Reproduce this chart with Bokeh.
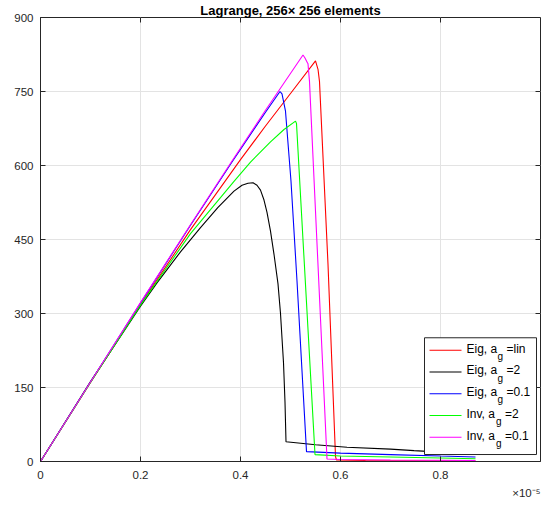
from bokeh.plotting import figure
from bokeh.models import Range1d, FixedTicker, Label, Title
from bokeh.embed import file_html
from bokeh.resources import INLINE

# ---------------- data (x in units of 1e-5) ----------------
eig_lin_x = [0, 0.1, 0.2, 0.3, 0.4, 0.45, 0.5, 0.55, 0.555, 0.558, 0.575, 0.59, 0.592, 0.65, 0.75, 0.87]
eig_lin_y = [0, 160, 318, 470, 612, 680, 746, 812, 795, 770, 400, 10, 3, 2, 1.5, 1]

eig_2_x = [0, 0.1, 0.2, 0.233, 0.28, 0.32, 0.355, 0.387, 0.403, 0.415, 0.425, 0.433, 0.44, 0.447,
           0.453, 0.46, 0.467, 0.475, 0.48, 0.486, 0.489, 0.491, 0.55, 0.613, 0.7, 0.747, 0.8, 0.87]
eig_2_y = [0, 162, 315, 362, 425, 474, 515, 548, 560, 564, 565, 560, 550, 530,
           505, 467, 420, 360, 300, 200, 120, 40, 34, 29, 25, 22, 19, 16]

eig_01_x = [0, 0.1, 0.2, 0.3, 0.383, 0.45, 0.479, 0.483, 0.49, 0.501, 0.513, 0.532, 0.6, 0.7, 0.8, 0.87]
eig_01_y = [0, 161, 321, 479, 607, 708, 750, 745, 710, 568, 366, 20, 17, 14, 11, 9]

inv_2_x = [0, 0.1, 0.2, 0.3, 0.387, 0.42, 0.46, 0.487, 0.51, 0.512, 0.549, 0.6, 0.7, 0.8, 0.87]
inv_2_y = [0, 160, 317, 462, 568, 607, 648, 673, 690, 685, 14, 11, 9, 7, 5.5]

inv_01_x = [0, 0.1, 0.2, 0.3, 0.383, 0.45, 0.525, 0.529, 0.533, 0.535, 0.538, 0.573, 0.6, 0.7, 0.8, 0.87]
inv_01_y = [0, 161, 322, 480, 609, 712, 824, 818, 810, 806, 770, 5, 4, 3, 2.5, 2]

series_x = [eig_lin_x, eig_2_x, eig_01_x, inv_2_x, inv_01_x]
series_y = [eig_lin_y, eig_2_y, eig_01_y, inv_2_y, inv_01_y]
series_colors = ["#ff0000", "#000000", "#0000ff", "#00ff00", "#ff00ff"]
legend_main = ["Eig, a", "Eig, a", "Eig, a", "Inv, a", "Inv, a"]
legend_sub = ["g", "g", "g", "g", "g"]
legend_rest = ["=lin", "=2", "=0.1", "=2", "=0.1"]

x_ticks = [0, 0.2, 0.4, 0.6, 0.8]
x_tick_labels = ["0", "0.2", "0.4", "0.6", "0.8"]
y_ticks = [0, 150, 300, 450, 600, 750, 900]
y_tick_labels = ["0", "150", "300", "450", "600", "750", "900"]

title_text = "Lagrange, 256\u00d7 256 elements"
x_exponent_text = "\u00d710\u207b\u2075"

# ---------------- layout helpers (picture pixel -> data) ----------------
W, H = 542, 506
FL, FR, FT, FB = 40, 540, 16, 461
XMIN, XMAX, YMIN, YMAX = 0.0, 1.0, 0.0, 900.0


def wx(px):
    return XMIN + (px - FL) * (XMAX - XMIN) / (FR - FL)


def wy(py):
    return YMIN + (FB - py) * (YMAX - YMIN) / (FB - FT)


def base(py, size):
    # labels render a bit below the requested alphabetic baseline; compensate
    return wy(py - 0.43 * size)


FONT = "Liberation Sans"
AX = "#262626"

p = figure(width=W, height=H, output_backend="svg", toolbar_location=None,
           x_range=Range1d(XMIN, XMAX), y_range=Range1d(YMIN, YMAX),
           min_border_left=FL, min_border_right=W - FR, min_border_top=FT,
           min_border_bottom=H - FB)
p.background_fill_color = "white"
p.border_fill_color = "white"
p.outline_line_color = AX
p.outline_line_width = 1

p.title.text = title_text
p.title.align = "center"
p.title.text_font = FONT
p.title.text_font_size = "13px"
p.title.text_font_style = "bold"
p.title.text_color = "black"
p.title.standoff = 0

for ax, ticks, labels in ((p.xaxis[0], x_ticks, x_tick_labels), (p.yaxis[0], y_ticks, y_tick_labels)):
    ax.ticker = FixedTicker(ticks=ticks)
    ax.major_label_overrides = {t: l for t, l in zip(ticks, labels)}
    ax.axis_line_color = AX
    ax.major_tick_line_color = AX
    ax.major_tick_in = 5
    ax.major_tick_out = 0
    ax.minor_tick_line_color = None
    ax.major_label_text_font = FONT
    ax.major_label_text_font_size = "11.5px"
    ax.major_label_text_color = AX
p.xaxis[0].major_label_standoff = 9
p.yaxis[0].major_label_standoff = 7

# the x10^-5 multiplier, right-aligned under the x axis
p.add_layout(Title(text=x_exponent_text, align="right", standoff=6, text_font=FONT,
                   text_font_size="11.5px", text_font_style="normal", text_color=AX), "below")

p.xgrid.ticker = FixedTicker(ticks=x_ticks)
p.ygrid.ticker = FixedTicker(ticks=y_ticks)
p.grid.grid_line_color = "#e3e3e3"
p.grid.grid_line_width = 1

# tick marks on the top and right edges of the box
p.segment(x0=x_ticks, x1=x_ticks, y0=[YMAX] * len(x_ticks), y1=[wy(FT + 5)] * len(x_ticks),
          line_color=AX, line_width=1)
p.segment(x0=[XMAX] * len(y_ticks), x1=[wx(FR - 5)] * len(y_ticks), y0=y_ticks, y1=y_ticks,
          line_color=AX, line_width=1)

for xs, ys, c in zip(series_x, series_y, series_colors):
    p.line(xs, ys, line_color=c, line_width=1.1)

# ---------------- legend (manual, for the subscript) ----------------
LB_L, LB_R, LB_T, LB_B = 424, 536, 337, 454
p.quad(left=[wx(LB_L)], right=[wx(LB_R)], top=[wy(LB_T)], bottom=[wy(LB_B)],
       fill_color="white", line_color=AX, line_width=1)
row0, drow = 349.5, 21.8
MAIN_FS, SUB_FS = 12, 10
sub_dx = [31, 31, 31, 29.5, 29.5]
for i, c in enumerate(series_colors):
    ry = row0 + i * drow
    p.line([wx(429), wx(461)], [wy(ry), wy(ry)], line_color=c, line_width=1.1)
    p.add_layout(Label(x=wx(466), y=base(ry + 3.5, MAIN_FS), text=legend_main[i], text_font=FONT,
                       text_font_size=f"{MAIN_FS}px", text_color="black", text_baseline="alphabetic"))
    p.add_layout(Label(x=wx(466 + sub_dx[i]), y=base(ry + 10.5, SUB_FS), text=legend_sub[i], text_font=FONT,
                       text_font_size=f"{SUB_FS}px", text_color="black", text_baseline="alphabetic"))
    p.add_layout(Label(x=wx(466 + sub_dx[i] + 9), y=base(ry + 3.5, MAIN_FS), text=legend_rest[i],
                       text_font=FONT, text_font_size=f"{MAIN_FS}px", text_color="black",
                       text_baseline="alphabetic"))

open("out.html", "w").write(file_html(p, INLINE))
